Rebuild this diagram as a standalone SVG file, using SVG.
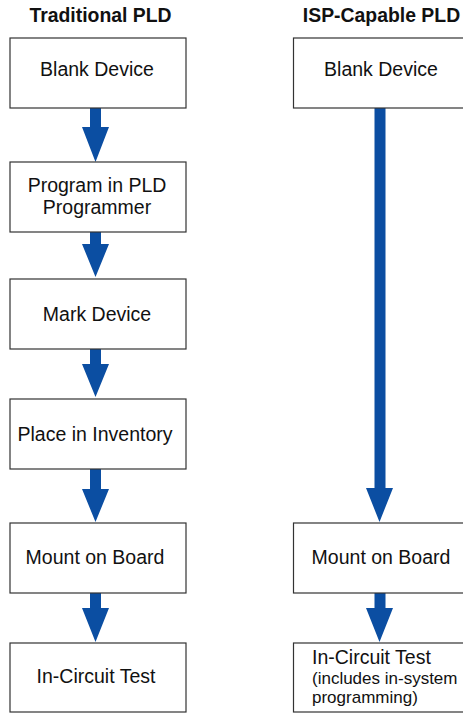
<svg xmlns="http://www.w3.org/2000/svg" width="463" height="713" viewBox="0 0 463 713">
<style>
.box{fill:#fff;stroke:#333;stroke-width:1.2}
.t{font-family:"Liberation Sans",Arial,sans-serif;font-size:19.5px;fill:#111}
.c{text-anchor:middle}
.h{font-family:"Liberation Sans",Arial,sans-serif;font-size:19.4px;font-weight:bold;fill:#111;text-anchor:middle}
.s{font-size:17px}
.ar{fill:#0B4EA2}
</style>
<rect width="463" height="713" fill="#fff"/>
<text class="h" x="100.5" y="22">Traditional PLD</text>
<text class="h" x="381.5" y="22">ISP-Capable PLD</text>
<g id="connectors">
<path class="ar" d="M90,108H101V127H109L95.5,162L82,127H90Z"/>
<path class="ar" d="M90,232H101V244H109L95.5,277L82,244H90Z"/>
<path class="ar" d="M90,349H101V364H109L95.5,397L82,364H90Z"/>
<path class="ar" d="M90,469H101V489H109L95.5,522L82,489H90Z"/>
<path class="ar" d="M90,593H101V608H109L95.5,642L82,608H90Z"/>
<path class="ar" d="M374.5,108H385.5V488H393L379.5,522L366,488H374.5Z"/>
<path class="ar" d="M374.5,593H385.5V608H393L379.5,642L366,608H374.5Z"/>
</g>
<g id="t1"><rect class="box" x="10" y="38" width="176" height="70"/><text class="t c" x="97" y="76">Blank Device</text></g>
<g id="t2"><rect class="box" x="10" y="162" width="176" height="70"/><text class="t c" x="97" y="192">Program in PLD</text><text class="t c" x="97" y="214">Programmer</text></g>
<g id="t3"><rect class="box" x="10" y="279" width="176" height="70"/><text class="t c" x="97" y="321">Mark Device</text></g>
<g id="t4"><rect class="box" x="10" y="399" width="176" height="70"/><text class="t c" x="95" y="441">Place in Inventory</text></g>
<g id="t5"><rect class="box" x="10" y="523" width="176" height="70"/><text class="t c" x="95" y="564">Mount on Board</text></g>
<g id="t6"><rect class="box" x="10" y="643" width="176" height="69"/><text class="t c" x="96" y="683">In-Circuit Test</text></g>
<g id="i1"><rect class="box" x="293.5" y="38" width="175" height="70"/><text class="t c" x="381" y="76">Blank Device</text></g>
<g id="i2"><rect class="box" x="293.5" y="523" width="175" height="70"/><text class="t c" x="381" y="564">Mount on Board</text></g>
<g id="i3"><rect class="box" x="293.5" y="643" width="175" height="69"/><text class="t" x="312" y="664">In-Circuit Test</text><text class="t s" x="312" y="684">(includes in-system</text><text class="t s" x="312" y="703">programming)</text></g>
</svg>
